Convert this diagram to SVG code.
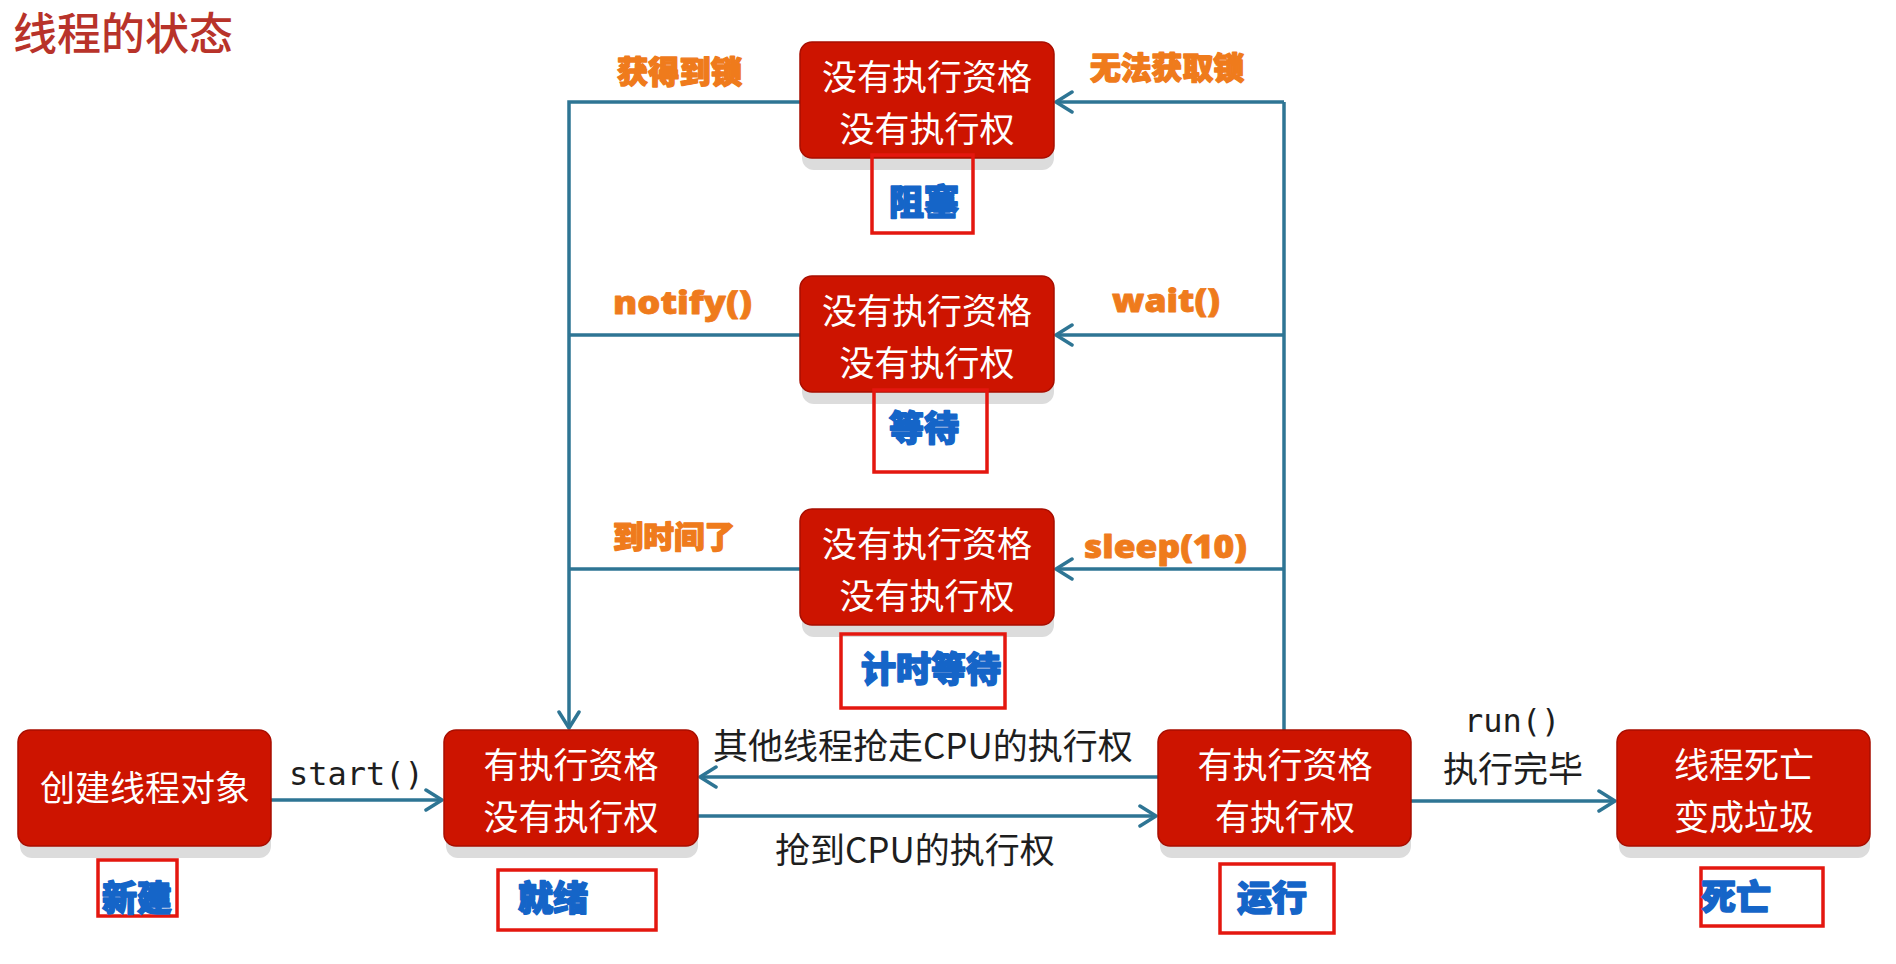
<svg xmlns="http://www.w3.org/2000/svg" width="1896" height="964" viewBox="0 0 1896 964">
<defs>
<style>
.bg{fill:#ffffff}
.shadow{fill:#dcdcdc}
.box{fill:#cd1400;stroke:#a80e00;stroke-width:1.5}
.bt{font-family:"Noto Sans CJK SC","Noto Sans",sans-serif;font-size:35px;fill:#ffffff;text-anchor:middle}
.lbl{fill:none;stroke:#e4170f;stroke-width:3.5}
.st{font-family:"Noto Sans CJK SC",sans-serif;font-size:35px;font-weight:900;fill:#1565c8;stroke:#1565c8;stroke-width:1.6;stroke-linejoin:round}
.or{font-family:"Noto Sans CJK SC",sans-serif;font-size:31px;font-weight:900;fill:#ef7b1c;stroke:#ef7b1c;stroke-width:1.4;stroke-linejoin:round}
.orl{font-family:"Open Sans","Noto Sans",sans-serif;font-size:32px;font-weight:800;fill:#ef7b1c;stroke:#ef7b1c;stroke-width:0.8;stroke-linejoin:round}
.bk{font-family:"Noto Sans CJK SC",sans-serif;font-size:35px;fill:#1e1e1e}
.mono{font-family:"DejaVu Sans Mono","Liberation Mono",monospace;font-size:32px;fill:#1e1e1e}
.ln{fill:none;stroke:#2e7594;stroke-width:3.5}
.title{font-family:"Noto Sans CJK SC",sans-serif;font-size:44px;font-weight:500;fill:#b8332a}
</style>
<marker id="arr" viewBox="0 0 20 24" refX="18" refY="12" markerWidth="20" markerHeight="24" markerUnits="userSpaceOnUse" orient="auto">
<path d="M2,2 L18,12 L2,22" fill="none" stroke="#2e7594" stroke-width="3.5" stroke-linecap="round" stroke-linejoin="round"/>
</marker>
</defs>
<rect class="bg" x="0" y="0" width="1896" height="964"/>
<text class="title" x="13" y="50">线程的状态</text>

<g id="connectors">
<line class="ln" x1="271" y1="800" x2="442" y2="800" marker-end="url(#arr)"/>
<line class="ln" x1="1158" y1="777" x2="700" y2="777" marker-end="url(#arr)"/>
<line class="ln" x1="698" y1="816" x2="1156" y2="816" marker-end="url(#arr)"/>
<line class="ln" x1="1411" y1="801" x2="1615" y2="801" marker-end="url(#arr)"/>
<polyline class="ln" points="1284,730 1284,102"/>
<line class="ln" x1="1284" y1="102" x2="1056" y2="102" marker-end="url(#arr)"/>
<line class="ln" x1="1284" y1="335" x2="1056" y2="335" marker-end="url(#arr)"/>
<line class="ln" x1="1284" y1="569" x2="1056" y2="569" marker-end="url(#arr)"/>
<polyline class="ln" points="800,102 569,102 569,728" marker-end="url(#arr)"/>
<line class="ln" x1="800" y1="335" x2="569" y2="335"/>
<line class="ln" x1="800" y1="569" x2="569" y2="569"/>
<text class="or" x="617" y="83" textLength="125" lengthAdjust="spacingAndGlyphs">获得到锁</text>
<text class="or" x="1090" y="79" textLength="154" lengthAdjust="spacingAndGlyphs">无法获取锁</text>
<text class="orl" x="613" y="314" textLength="139" lengthAdjust="spacingAndGlyphs">notify()</text>
<text class="orl" x="1112" y="312" textLength="108" lengthAdjust="spacingAndGlyphs">wait()</text>
<text class="or" x="613" y="548" textLength="122" lengthAdjust="spacingAndGlyphs">到时间了</text>
<text class="orl" x="1084" y="558" textLength="163" lengthAdjust="spacingAndGlyphs">sleep(10)</text>
<text class="mono" x="289" y="785">start()</text>
<text class="bk" x="713" y="759">其他线程抢走CPU的执行权</text>
<text class="bk" x="775" y="863">抢到CPU的执行权</text>
<text class="mono" x="1464" y="732">run()</text>
<text class="bk" x="1443" y="782">执行完毕</text>
</g>

<g id="node-new">
<rect class="shadow" x="20" y="742" width="251" height="116" rx="12"/>
<rect class="box" x="18" y="730" width="253" height="116" rx="12"/>
<text class="bt" x="145" y="801">创建线程对象</text>
<rect class="lbl" x="98" y="860" width="79" height="56"/>
<text class="st" x="102" y="911">新建</text>
</g>

<g id="node-ready">
<rect class="shadow" x="446" y="742" width="252" height="116" rx="12"/>
<rect class="box" x="444" y="730" width="254" height="116" rx="12"/>
<text class="bt" x="571" y="778">有执行资格</text>
<text class="bt" x="571" y="830">没有执行权</text>
<rect class="lbl" x="498" y="870" width="158" height="60"/>
<text class="st" x="518" y="911">就绪</text>
</g>

<g id="node-running">
<rect class="shadow" x="1160" y="742" width="251" height="116" rx="12"/>
<rect class="box" x="1158" y="730" width="253" height="116" rx="12"/>
<text class="bt" x="1285" y="778">有执行资格</text>
<text class="bt" x="1285" y="830">有执行权</text>
<rect class="lbl" x="1220" y="864" width="114" height="69"/>
<text class="st" x="1237" y="911">运行</text>
</g>

<g id="node-dead">
<rect class="shadow" x="1619" y="742" width="251" height="116" rx="12"/>
<rect class="box" x="1617" y="730" width="253" height="116" rx="12"/>
<text class="bt" x="1744" y="778">线程死亡</text>
<text class="bt" x="1744" y="830">变成垃圾</text>
<rect class="lbl" x="1701" y="868" width="122" height="58"/>
<text class="st" x="1701" y="910">死亡</text>
</g>

<g id="node-blocked">
<rect class="shadow" x="802" y="54" width="252" height="116" rx="12"/>
<rect class="box" x="800" y="42" width="254" height="116" rx="12"/>
<text class="bt" x="927" y="90">没有执行资格</text>
<text class="bt" x="927" y="142">没有执行权</text>
<rect class="lbl" x="872" y="155" width="101" height="78"/>
<text class="st" x="889" y="215">阻塞</text>
</g>

<g id="node-waiting">
<rect class="shadow" x="802" y="288" width="252" height="116" rx="12"/>
<rect class="box" x="800" y="276" width="254" height="116" rx="12"/>
<text class="bt" x="927" y="324">没有执行资格</text>
<text class="bt" x="927" y="376">没有执行权</text>
<rect class="lbl" x="874" y="390" width="113" height="82"/>
<text class="st" x="889" y="441">等待</text>
</g>

<g id="node-timed-waiting">
<rect class="shadow" x="802" y="521" width="252" height="116" rx="12"/>
<rect class="box" x="800" y="509" width="254" height="116" rx="12"/>
<text class="bt" x="927" y="557">没有执行资格</text>
<text class="bt" x="927" y="609">没有执行权</text>
<rect class="lbl" x="841" y="634" width="164" height="74"/>
<text class="st" x="861" y="682">计时等待</text>
</g>
</svg>
